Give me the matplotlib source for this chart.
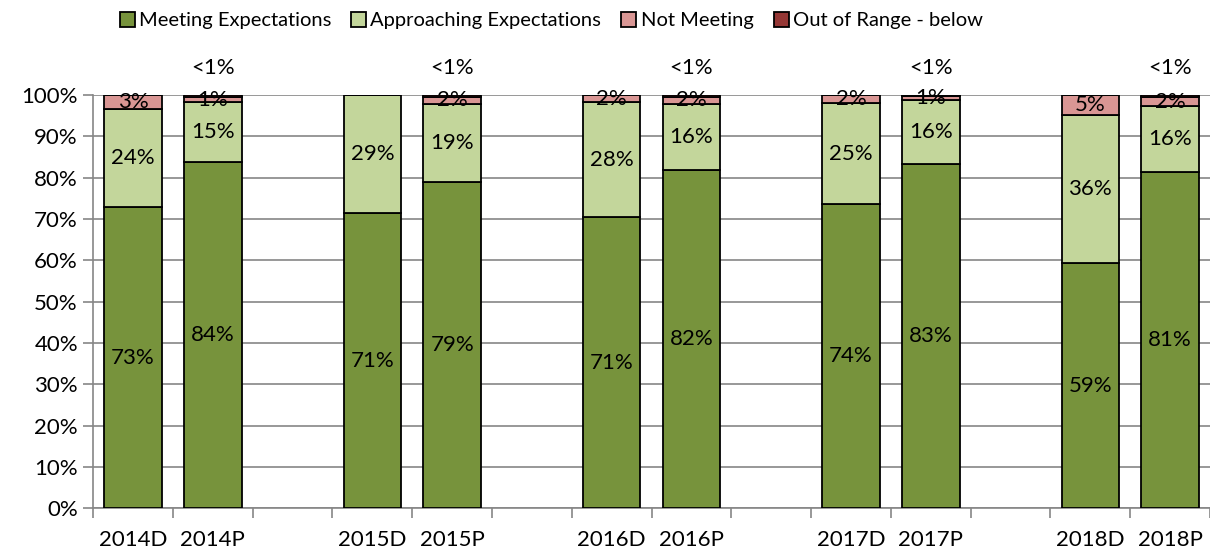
import matplotlib

matplotlib.use("Agg")
import matplotlib.pyplot as plt
import numpy as np

plt.rcParams["font.family"] = ["Lato", "DejaVu Sans"]

# categories (blank slots separate the years)
cats = ["2014D", "2014P", "", "2015D", "2015P", "", "2016D", "2016P", "",
        "2017D", "2017P", "", "2018D", "2018P"]
meeting = [72.9, 83.7, np.nan, 71.4, 79.0, np.nan, 70.5, 81.9, np.nan,
           73.6, 83.4, np.nan, 59.4, 81.3]
approaching = [23.8, 14.6, np.nan, 28.6, 18.9, np.nan, 27.8, 16.0, np.nan,
               24.5, 15.4, np.nan, 35.9, 16.0]
not_meeting = [3.3, 1.2, np.nan, 0.0, 1.7, np.nan, 1.7, 1.6, np.nan,
               1.9, 0.9, np.nan, 4.7, 2.2]
out_range = [0.0, 0.5, np.nan, 0.0, 0.4, np.nan, 0.0, 0.5, np.nan,
             0.0, 0.3, np.nan, 0.0, 0.5]

lab_meeting = ["73%", "84%", "", "71%", "79%", "", "71%", "82%", "",
               "74%", "83%", "", "59%", "81%"]
lab_approach = ["24%", "15%", "", "29%", "19%", "", "28%", "16%", "",
                "25%", "16%", "", "36%", "16%"]
lab_not = ["3%", "1%", "", "", "2%", "", "2%", "2%", "",
           "2%", "1%", "", "5%", "2%"]
lab_out = ["", "<1%", "", "", "<1%", "", "", "<1%", "",
           "", "<1%", "", "", "<1%"]

series = [
    ("Meeting Expectations", meeting, "#77933C", lab_meeting),
    ("Approaching Expectations", approaching, "#C3D69B", lab_approach),
    ("Not Meeting", not_meeting, "#D99694", lab_not),
    ("Out of Range - below", out_range, "#953735", None),
]

fig = plt.figure(figsize=(12.1, 5.53), dpi=100)
ax = fig.add_axes([0.077, 0.081, 0.923, 0.747])

x = np.arange(len(cats))
keep = ~np.isnan(np.array(meeting, dtype=float))
bottom = np.zeros(len(cats))
for name, vals, color, labs in series:
    v = np.nan_to_num(np.array(vals, dtype=float))
    ax.bar(x[keep], v[keep], 0.72, bottom=bottom[keep], color=color,
           edgecolor="black", lw=1.3, label=name, zorder=3)
    if labs is not None:
        for xi, vi, bi, t in zip(x, v, bottom, labs):
            if t:
                ax.text(xi, bi + vi / 2, t, ha="center", va="center",
                        fontsize=16, zorder=4)
    bottom += v

for xi, t in zip(x, lab_out):
    if t:
        ax.text(xi, 106.5, t, ha="center", va="center", fontsize=16,
                clip_on=False)

ax.set_xlim(-0.5, len(cats) - 0.5)
ax.set_ylim(0, 100)
ax.set_yticks(np.arange(0, 101, 10))
ax.set_yticklabels([f"{v}%" for v in range(0, 101, 10)], fontsize=16)
ax.set_xticks(x)
ax.set_xticklabels(cats, fontsize=16)
ax.set_xticks(np.arange(-0.5, len(cats), 1), minor=True)
ax.tick_params(axis="x", which="major", length=0, pad=16)
ax.tick_params(axis="x", which="minor", length=7, color="#868686", width=1.2)
ax.tick_params(axis="y", length=7, color="#868686", width=1.2, pad=4)
ax.grid(axis="y", color="#868686", lw=1.2, zorder=0)
for s in ["top", "right"]:
    ax.spines[s].set_visible(False)
for s in ["left", "bottom"]:
    ax.spines[s].set_color("#868686")
    ax.spines[s].set_linewidth(1.2)

ax.legend(loc="center", bbox_to_anchor=(0.41, 1.18), ncol=4,
          frameon=False, fontsize=14.5, handlelength=0.75, handleheight=0.75,
          handletextpad=0.2, columnspacing=1.0)

fig.savefig("out.png", dpi=100)
